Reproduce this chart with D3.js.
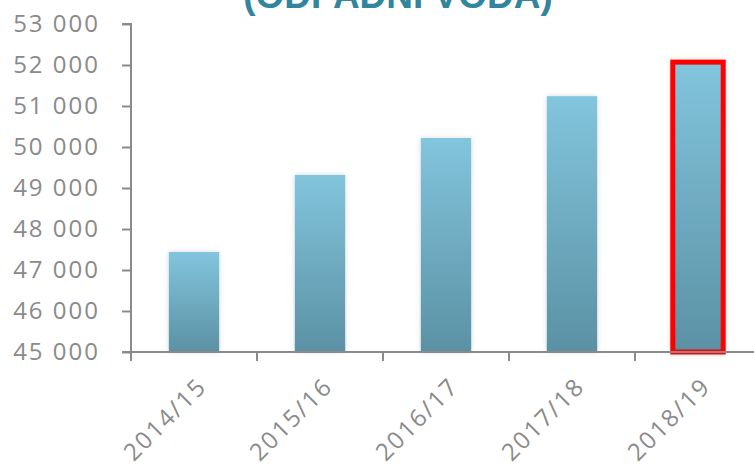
<!DOCTYPE html>
<html>
<head>
<meta charset="utf-8">
<script src="https://cdn.jsdelivr.net/npm/d3@7"></script>
<style>
  body { margin: 0; background: #fff; }
  svg { display: block; }
</style>
</head>
<body>
<div id="chart"></div>
<script>
// data
const years = ["2014/15", "2015/16", "2016/17", "2017/18", "2018/19"];
const values = [47440, 49320, 50220, 51240, 52070];
const yTicks = [45000, 46000, 47000, 48000, 49000, 50000, 51000, 52000, 53000];
const highlighted = "2018/19";
const title = "(ODPADNÍ VODA)";

const width = 754, height = 467;
const svg = d3.select("#chart").append("svg")
    .attr("width", width)
    .attr("height", height);

const defs = svg.append("defs");
const grad = defs.append("linearGradient")
    .attr("id", "barGrad")
    .attr("x1", 0).attr("y1", 0).attr("x2", 0).attr("y2", 1);
grad.append("stop").attr("offset", "0%").attr("stop-color", "#82c5dd");
grad.append("stop").attr("offset", "100%").attr("stop-color", "#5b91a4");

defs.append("filter").attr("id", "shadow")
    .attr("x", "-30%").attr("y", "-10%").attr("width", "160%").attr("height", "120%")
  .append("feDropShadow")
    .attr("dx", 0).attr("dy", 0).attr("stdDeviation", 2.5)
    .attr("flood-color", "#000").attr("flood-opacity", 0.15);

const x = d3.scaleBand()
    .domain(years)
    .range([131, 761])
    .paddingInner(0.6)
    .paddingOuter(0.3);

const y = d3.scaleLinear()
    .domain([45000, 53000])
    .range([352, 24]);

const fmt = d3.formatLocale({ decimal: ",", thousands: " ", grouping: [3] }).format(",");

// title, cut off at the top like in the original
svg.append("text")
    .attr("x", 398)
    .attr("y", 8)
    .attr("text-anchor", "middle")
    .style("font-family", "Liberation Sans, Arial, sans-serif")
    .style("font-weight", "bold")
    .style("font-size", "37px")
    .style("fill", "#31859c")
    .text(title);

// bars
svg.append("g")
  .selectAll("rect")
  .data(years)
  .join("rect")
    .attr("x", d => x(d))
    .attr("y", (d, i) => y(values[i]))
    .attr("width", x.bandwidth())
    .attr("height", (d, i) => y(45000) - y(values[i]))
    .attr("fill", "url(#barGrad)")
    .attr("filter", "url(#shadow)")
    .attr("stroke", d => d === highlighted ? "#ff0000" : "none")
    .attr("stroke-width", 5);

// y axis
const yAxis = svg.append("g")
    .attr("transform", "translate(131,0)")
    .call(d3.axisLeft(y).tickValues(yTicks).tickSize(9).tickPadding(22).tickFormat(fmt));

// x axis with ticks between the categories
const xAxis = svg.append("g")
    .attr("transform", "translate(0,352)");
xAxis.append("line")
    .attr("x1", 131).attr("x2", width)
    .attr("y1", 0).attr("y2", 0);
xAxis.selectAll(".tk")
  .data(years)
  .join("line")
    .attr("class", "tk")
    .attr("x1", d => x(d) - x.step() * 0.3)
    .attr("x2", d => x(d) - x.step() * 0.3)
    .attr("y1", 0).attr("y2", 9);
xAxis.selectAll(".lbl")
  .data(years)
  .join("text")
    .attr("class", "lbl")
    .attr("transform", d => `translate(${x(d) + x.bandwidth() / 2 + 14},${36}) rotate(-45)`)
    .attr("text-anchor", "end")
    .text(d => d);

svg.selectAll("line, .domain")
    .attr("stroke", "#8a8a8a")
    .attr("stroke-width", 2);
yAxis.select(".domain").attr("d", "M-9,24H0V352H-9");
svg.selectAll(".tick text, .lbl")
    .style("font-family", "Open Sans, sans-serif")
    .style("font-size", "24px")
    .style("letter-spacing", "2px")
    .style("fill", "#8a8a8a");
</script>
</body>
</html>
